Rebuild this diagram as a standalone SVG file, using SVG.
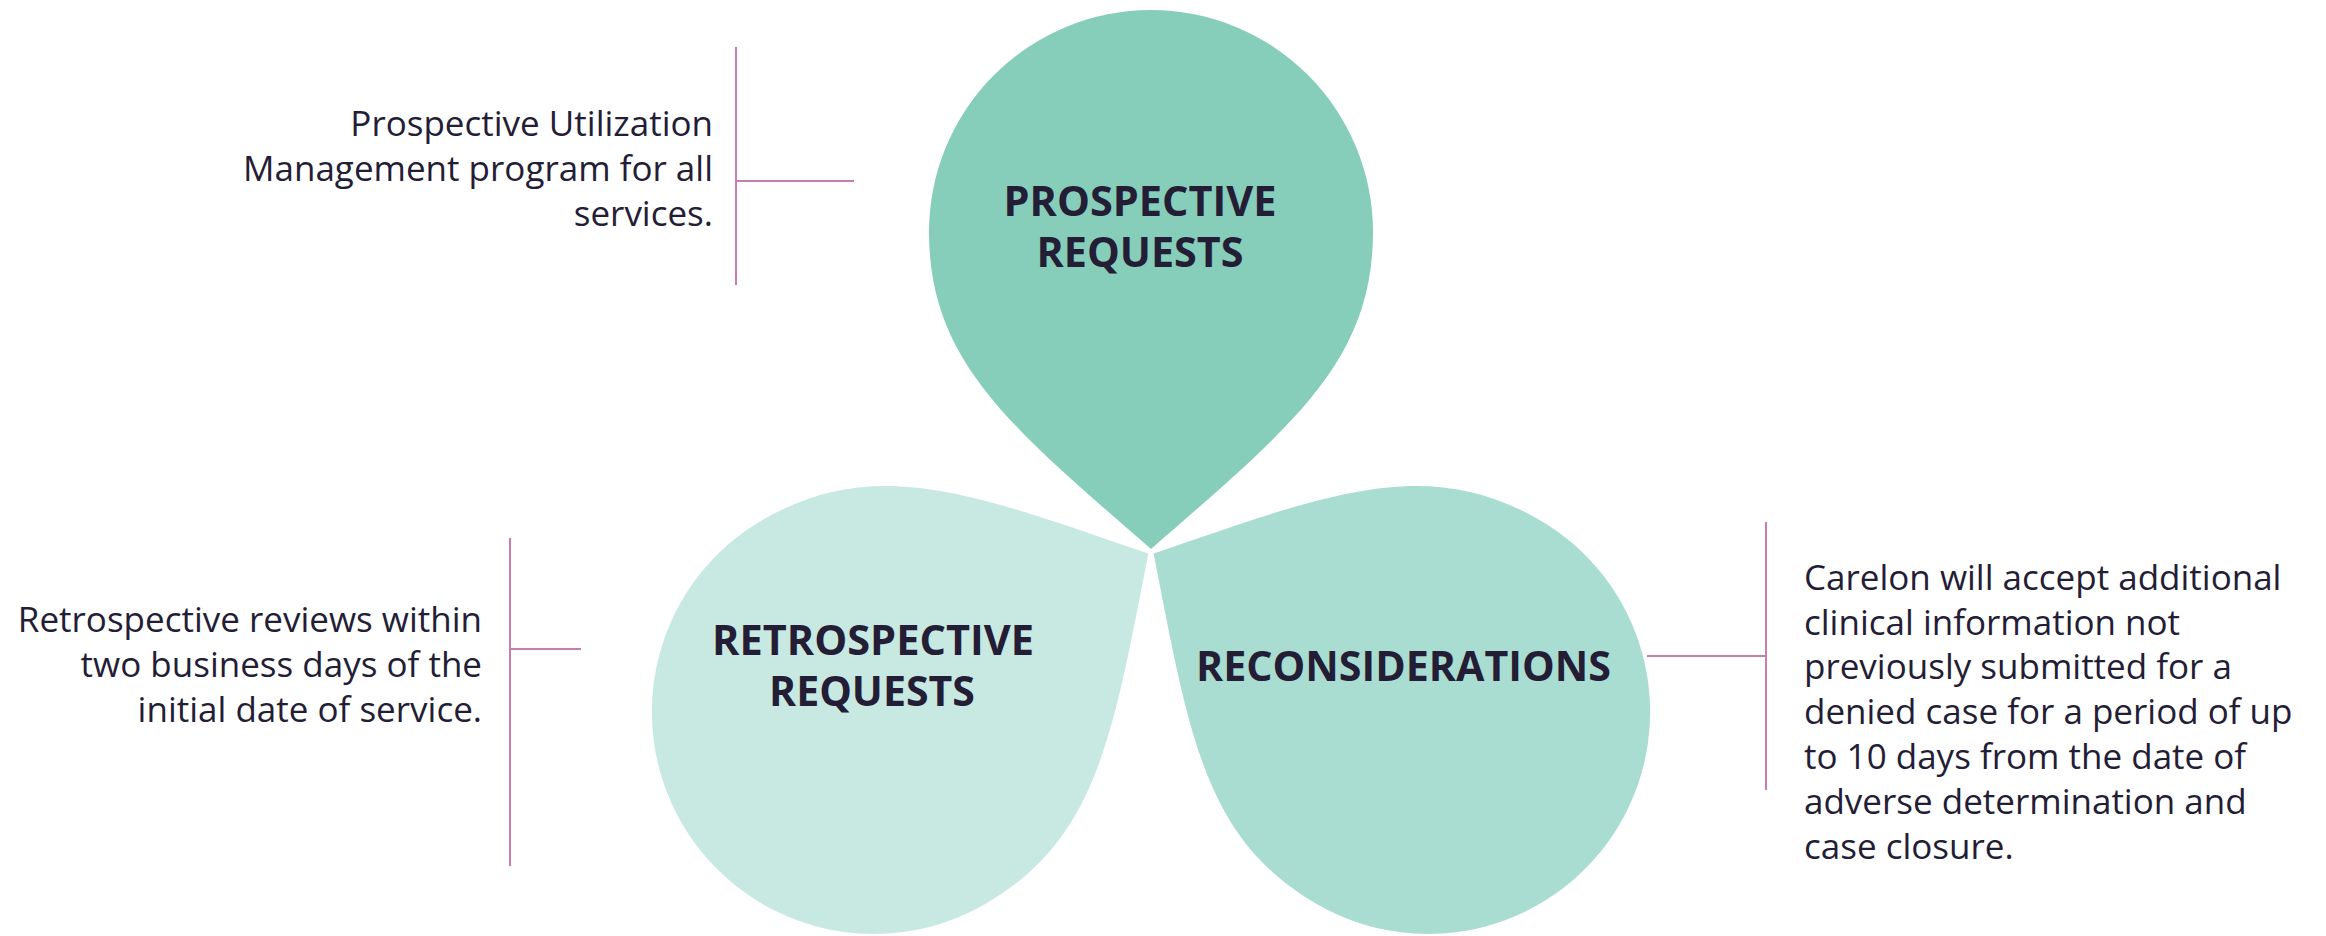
<svg xmlns="http://www.w3.org/2000/svg" xmlns:xlink="http://www.w3.org/1999/xlink" width="2326" height="936" viewBox="0 0 2326 936">
  <style>
    .head { font-family: "Open Sans", "Noto Sans", "Liberation Sans", sans-serif; font-weight: 700; font-size: 41px; fill: #241d36; text-anchor: middle; }
    .body { font-family: "Open Sans", "Noto Sans", "Liberation Sans", sans-serif; font-weight: 400; font-size: 35px; fill: #241d36; }
    .right { text-anchor: end; }
    .left { text-anchor: start; }
    .bracket { stroke: #c77db1; stroke-width: 2; fill: none; }
  </style>
  <defs>
    <!-- teardrop with its tip at the origin and its round end pointing up -->
    <path id="drop" d="M 0 0 C -140 -122 -222 -187 -222 -317 A 222 222 0 0 1 0 -539 A 222 222 0 0 1 222 -317 C 222 -187 140 -122 0 0 Z"/>
  </defs>

  <rect width="2326" height="936" fill="#ffffff"/>

  <!-- bracket lines tying each drop to its description -->
  <g id="connectors">
    <path class="bracket" d="M 736 47 V 285 M 736 181 H 854"/>
    <path class="bracket" d="M 510 538 V 866 M 510 649 H 581"/>
    <path class="bracket" d="M 1766 522 V 790 M 1647 656 H 1766"/>
  </g>

  <g id="prospective">
    <use xlink:href="#drop" href="#drop" transform="translate(1151 549)" fill="#86ceba"/>
    <text class="head" x="1140" y="216" textLength="273" lengthAdjust="spacingAndGlyphs">PROSPECTIVE</text>
    <text class="head" x="1140" y="267" textLength="207" lengthAdjust="spacingAndGlyphs">REQUESTS</text>
  </g>

  <g id="retrospective">
    <use xlink:href="#drop" href="#drop" transform="translate(1148.4 553.5) rotate(-120)" fill="#c8e9e1"/>
    <text class="head" x="873" y="655" textLength="322" lengthAdjust="spacingAndGlyphs">RETROSPECTIVE</text>
    <text class="head" x="872" y="706" textLength="206" lengthAdjust="spacingAndGlyphs">REQUESTS</text>
  </g>

  <g id="reconsiderations">
    <use xlink:href="#drop" href="#drop" transform="translate(1153.6 553.5) rotate(120)" fill="#aaddd1"/>
    <text class="head" x="1403.5" y="681" textLength="415" lengthAdjust="spacingAndGlyphs">RECONSIDERATIONS</text>
  </g>

  <g id="prospective-note">
    <text class="body right" x="713" y="136">Prospective Utilization</text>
    <text class="body right" x="713" y="181">Management program for all</text>
    <text class="body right" x="713" y="226">services.</text>
  </g>

  <g id="retrospective-note">
    <text class="body right" x="482" y="632">Retrospective reviews within</text>
    <text class="body right" x="482" y="677">two business days of the</text>
    <text class="body right" x="482" y="722">initial date of service.</text>
  </g>

  <g id="reconsiderations-note">
    <text class="body left" x="1804" y="590">Carelon will accept additional</text>
    <text class="body left" x="1804" y="635">clinical information not</text>
    <text class="body left" x="1804" y="679">previously submitted for a</text>
    <text class="body left" x="1804" y="724">denied case for a period of up</text>
    <text class="body left" x="1804" y="769">to 10 days from the date of</text>
    <text class="body left" x="1804" y="814">adverse determination and</text>
    <text class="body left" x="1804" y="859">case closure.</text>
  </g>
</svg>
